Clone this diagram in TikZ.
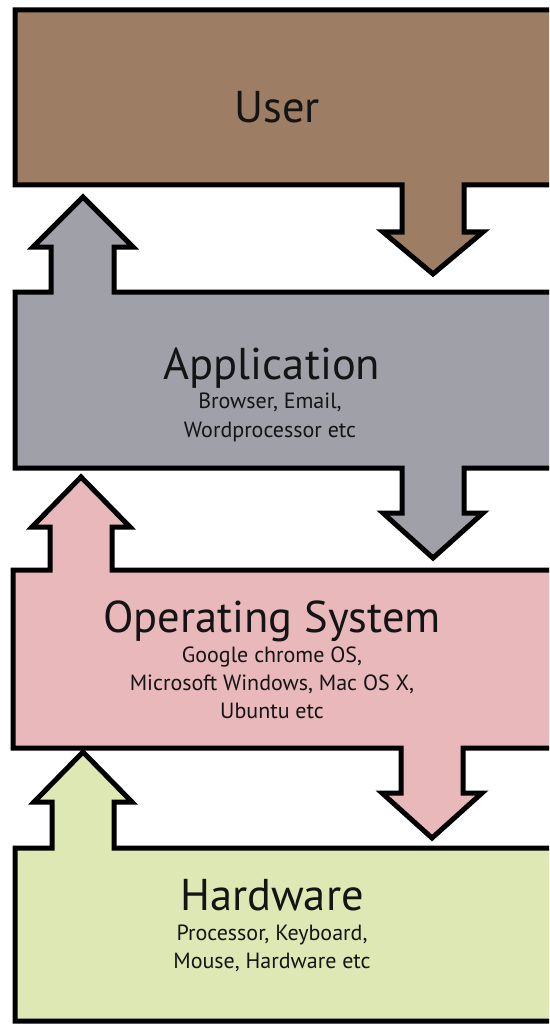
\documentclass[tikz,border=0pt]{standalone}
\usepackage{fontspec}
\setmainfont{PT Sans}
\definecolor{userfill}{RGB}{157,125,100}
\definecolor{appfill}{RGB}{160,160,168}
\definecolor{osfill}{RGB}{232,184,186}
\definecolor{hwfill}{RGB}{222,232,180}
\tikzset{
  layer/.style={draw=black, line width=5pt, line join=miter, miter limit=10},
  title/.style={anchor=base, inner sep=0pt, font=\fontsize{44.5}{48}\selectfont, text=black!92},
  sub/.style={anchor=base, inner sep=0pt, font=\fontsize{22}{28}\selectfont, text=black!92},
}
\begin{document}
\begin{tikzpicture}[x=1pt, y=-1pt]
\useasboundingbox (0,0) rectangle (549,1024);
\clip (0,0) rectangle (549,1024);

% User layer: box with a downward arrow at the bottom right
\fill[white] (0,0) rectangle (549,1024);
\draw[layer, fill=userfill]
  (15,10) -- (570,10) -- (570,185) -- (464,185) -- (464,232) -- (483,232)
  -- (433,274) -- (383,232) -- (402,232) -- (402,185) -- (15,185) -- cycle;

% Application layer: arrow up to the user, arrow down to the OS
\draw[layer, fill=appfill]
  (15,292) -- (51,292) -- (51,247) -- (33,247) -- (83,197) -- (133,247)
  -- (114,247) -- (114,292) -- (570,292) -- (570,468) -- (464,468)
  -- (464,513) -- (483,513) -- (433,558) -- (383,513) -- (402,513)
  -- (402,468) -- (15,468) -- cycle;

% Operating system layer
\draw[layer, fill=osfill]
  (13,570) -- (50,570) -- (50,527) -- (32,527) -- (81,477) -- (130,527)
  -- (112,527) -- (112,570) -- (570,570) -- (570,748) -- (463,748)
  -- (463,793) -- (482,793) -- (432,838) -- (382,793) -- (401,793)
  -- (401,748) -- (13,748) -- cycle;

% Hardware layer
\draw[layer, fill=hwfill]
  (15,848) -- (52,848) -- (52,802) -- (34,802) -- (83,752) -- (132,802)
  -- (114,802) -- (114,848) -- (570,848) -- (570,1021) -- (15,1021) -- cycle;

% Labels
\node[title] (user) at (277,123) {User};

\node[title] (app) at (272,379) {Application};
\node[sub] (app1) at (270,408) {Browser, Email,};
\node[sub] (app2) at (270,437) {Wordprocessor etc};

\node[title] (os) at (272,632) {Operating System};
\node[sub] (os1) at (272,662) {Google chrome OS,};
\node[sub] (os2) at (272,690) {Microsoft Windows, Mac OS X,};
\node[sub] (os3) at (272,718) {Ubuntu etc};

\node[title] (hw) at (272,910) {Hardware};
\node[sub] (hw1) at (272,940) {Processor, Keyboard,};
\node[sub] (hw2) at (272,968) {Mouse, Hardware etc};
\end{tikzpicture}
\end{document}
